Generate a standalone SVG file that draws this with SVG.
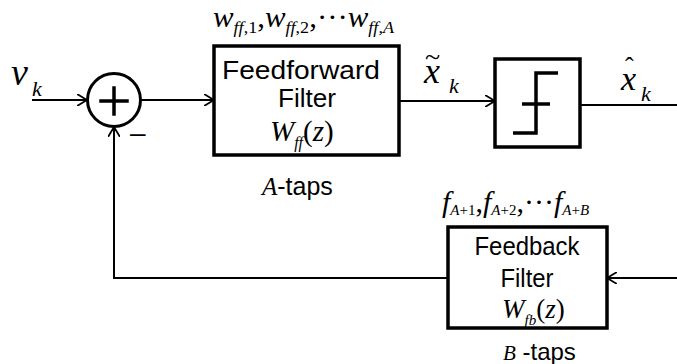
<svg xmlns="http://www.w3.org/2000/svg" width="677" height="364" viewBox="0 0 677 364">
<defs>
<marker id="arr" viewBox="0 0 10 12" refX="10" refY="6" markerWidth="10" markerHeight="12" markerUnits="userSpaceOnUse" orient="auto">
<path d="M0,0 L10,6 L0,12" fill="none" stroke="#000" stroke-width="1.8"/>
</marker>
<style>
.box{fill:#fff;stroke:#000;stroke-width:3.5}
.ln{fill:none;stroke:#000;stroke-width:2}
.thick{fill:none;stroke:#000;stroke-width:3.5;stroke-linecap:square}
.sans{font-family:"Liberation Sans",Arial,sans-serif;fill:#000}
.ti{font-family:"Liberation Serif","Times New Roman",serif;font-style:italic;fill:#000}
.rm{font-family:"Liberation Serif","Times New Roman",serif;font-style:normal}
</style>
</defs>
<rect width="677" height="364" fill="#fff"/>
<g id="connectors">
<line class="ln" x1="32" y1="100" x2="87" y2="100" marker-end="url(#arr)"/>
<line class="ln" x1="141" y1="100" x2="214" y2="100" marker-end="url(#arr)"/>
<line class="ln" x1="399" y1="101" x2="495" y2="101" marker-end="url(#arr)"/>
<line class="ln" x1="580" y1="105" x2="677" y2="105"/>
<line class="ln" x1="677" y1="278" x2="607" y2="278" marker-end="url(#arr)"/>
<polyline class="ln" points="448,278 114,278 114,127" marker-end="url(#arr)"/>
</g>
<g id="input-label">
<text class="ti" x="11" y="85" font-size="38">v</text>
<text class="ti" x="32" y="96" font-size="22">k</text>
</g>
<g id="summer">
<circle cx="114" cy="100" r="26.5" fill="#fff" stroke="#000" stroke-width="3"/>
<line class="thick" x1="101" y1="101" x2="127" y2="101"/>
<line class="thick" x1="114" y1="88" x2="114" y2="114"/>
<text class="sans" x="130" y="142" font-size="28">–</text>
</g>
<g id="feedforward">
<rect class="box" x="214" y="46" width="185" height="109"/>
<text class="sans" x="301" y="79" font-size="26" text-anchor="middle" textLength="158" lengthAdjust="spacingAndGlyphs">Feedforward</text>
<text class="sans" x="307" y="107" font-size="26" text-anchor="middle" textLength="58" lengthAdjust="spacingAndGlyphs">Filter</text>
<text class="ti" x="270" y="141" font-size="29">W<tspan font-size="16" dy="7">ff</tspan><tspan class="rm" dy="-7">(</tspan>z<tspan class="rm">)</tspan></text>
<text class="ti" x="213" y="27" font-size="29" textLength="181" lengthAdjust="spacingAndGlyphs">w<tspan font-size="17" dy="6">ff</tspan><tspan class="rm" font-size="17">,1</tspan><tspan class="rm" dy="-6">,</tspan>w<tspan font-size="17" dy="6">ff</tspan><tspan class="rm" font-size="17">,2</tspan><tspan class="rm" dy="-6">,···</tspan>w<tspan font-size="17" dy="6">ff,A</tspan></text>
<text x="262" y="195" font-size="25"><tspan class="ti">A</tspan><tspan class="sans">-taps</tspan></text>
</g>
<g id="mid-label">
<text class="ti" x="424" y="83" font-size="36">x</text>
<text class="rm" x="425" y="66" font-size="28">~</text>
<text class="ti" x="449" y="93" font-size="22">k</text>
</g>
<g id="quantizer">
<rect class="box" x="495" y="59" width="85" height="88"/>
<polyline points="513,133 536,133 536,73 558,73" fill="none" stroke="#000" stroke-width="3.5"/>
<line x1="522" y1="104" x2="550" y2="104" stroke="#000" stroke-width="3.5"/>
</g>
<g id="output-label">
<text class="ti" x="621" y="90" font-size="34">x</text>
<text class="rm" x="625" y="75" font-size="26">ˆ</text>
<text class="ti" x="641" y="101" font-size="22">k</text>
</g>
<g id="feedback">
<rect class="box" x="448" y="227" width="159" height="101"/>
<text class="sans" x="527" y="255" font-size="26" text-anchor="middle" textLength="105" lengthAdjust="spacingAndGlyphs">Feedback</text>
<text class="sans" x="527" y="287" font-size="26" text-anchor="middle" textLength="53" lengthAdjust="spacingAndGlyphs">Filter</text>
<text class="ti" x="502" y="318" font-size="27">W<tspan font-size="15" dy="7">fb</tspan><tspan class="rm" dy="-7">(</tspan>z<tspan class="rm">)</tspan></text>
<text class="ti" x="442" y="212" font-size="30">f<tspan font-size="15" dy="3">A</tspan><tspan class="rm" font-size="15">+1</tspan><tspan class="rm" dy="-3">,</tspan>f<tspan font-size="15" dy="3">A</tspan><tspan class="rm" font-size="15">+2</tspan><tspan class="rm" dy="-3">,···</tspan>f<tspan font-size="15" dy="3">A</tspan><tspan class="rm" font-size="15">+</tspan><tspan font-size="15">B</tspan></text>
<text x="503" y="360" font-size="24"><tspan class="ti" font-size="21">B</tspan><tspan class="sans"> -taps</tspan></text>
</g>
</svg>
